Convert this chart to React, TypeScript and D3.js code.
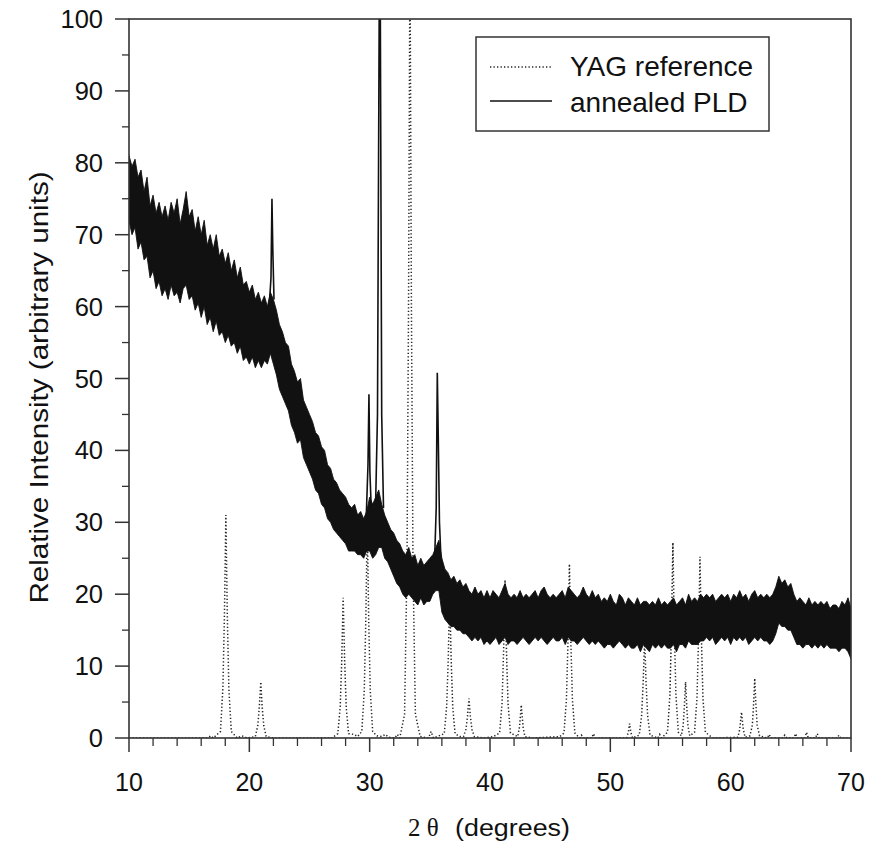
import React from "react";
import * as d3 from "d3";

// ---------- data ----------
const xTicks = [10, 20, 30, 40, 50, 60, 70];
const xMinorTicks = [12, 14, 16, 18, 22, 24, 26, 28, 32, 34, 36, 38, 42, 44, 46, 48, 52, 54, 56, 58, 62, 64, 66, 68];
const yTicks = [0, 10, 20, 30, 40, 50, 60, 70, 80, 90, 100];
const yMinorTicks = [5, 15, 25, 35, 45, 55, 65, 75, 85, 95];

// annealed PLD: upper / lower envelope of the noisy trace, sampled every 0.25 deg from 10 to 70
const pldAngles = d3.range(0, 241).map((i) => 10 + i * 0.25);
const pldHigh = [
  81, 79.5, 80.5, 78,
  79, 76, 78, 74,
  75.5, 73, 74.5, 72.5,
  74, 72, 74.5, 73,
  75, 71.5, 73.5, 76,
  72.5, 73.5, 70.5, 72.5,
  70, 72, 68.5, 70,
  68, 70, 67, 68,
  66, 67.5, 65, 66.5,
  64, 65.5, 63, 63.5,
  62, 63, 61, 62,
  60.5, 61.5, 60, 62,
  61, 59.5, 57.5, 56.5,
  55, 54.5, 52, 51,
  49.5, 50, 47, 46,
  45, 44, 42.5, 42,
  40.5, 40, 38, 37.5,
  36, 35.5, 34.5, 34,
  33.5, 32.5, 32, 32.5,
  31, 31.5, 30.5, 31.5,
  33.5, 32.5, 33.5, 34.5,
  32.5, 31, 30, 29,
  28.5, 27.5, 27, 26,
  25.5, 26.5, 25, 25.5,
  24, 25, 24, 24.5,
  25, 25.5, 26.5, 27.5,
  25, 23.5, 23, 22,
  22.5, 21.5, 22, 21,
  21.5, 20.5, 20, 21,
  20, 20.5, 19.5, 20.5,
  19.5, 20.5, 20, 19.5,
  20.5, 21.5, 20, 19.5,
  20, 19.5, 20.5, 19.5,
  20, 19.5, 20, 20.5,
  19.5, 20.5, 21, 20,
  19.5, 20, 19.5, 20,
  20.5, 19.5, 21, 20.5,
  20, 19.5, 20, 21,
  20, 19.5, 20.5, 19.5,
  20, 19, 19.5, 19,
  20, 19, 18.5, 20,
  19.5, 18.5, 19.5, 19,
  18.5, 19.5, 18.5, 19,
  19, 18.5, 19, 18.5,
  19.5, 18.5, 19, 18.5,
  19, 19.5, 18.5, 19,
  19.5, 18.5, 20, 19,
  19.5, 19, 20, 19.5,
  20, 19.5, 20, 19,
  19.5, 20, 19.5, 20,
  19, 20, 19.5, 20.5,
  19.5, 20, 19, 20,
  20.5, 19.5, 20, 19.5,
  20, 19.5, 20, 21,
  22.5, 21.5, 22, 21,
  21.5, 20, 19, 19.5,
  19, 18.5, 19.5, 18.5,
  19, 18.5, 19, 18.5,
  19, 18, 18.5, 18.5,
  18, 19, 18.5, 19.5,
  18,
];
const pldLow = [
  72, 70, 71, 68,
  69, 66.5, 67, 64,
  65, 62.5, 63.5, 61.5,
  62.5, 61, 63, 61.5,
  62, 60.5, 62.5, 63,
  61, 61.5, 59.5, 60.5,
  58.5, 60, 57.5, 58.5,
  56.5, 58, 56, 56.5,
  55, 56, 54.5, 55,
  53.5, 54.5, 52.5, 53,
  52, 53, 51.5, 52.5,
  51.5, 52.5, 52, 53.5,
  52, 50.5, 48.5, 47.5,
  46.5, 45.5, 43.5, 42.5,
  41, 41.5, 39, 38,
  37, 36, 34.5, 34,
  32.5, 32, 30.5, 30,
  29, 28.5, 28, 27.5,
  27, 26, 26, 26,
  25.5, 25.5, 25, 26,
  26, 25, 25.5, 26.5,
  26.5, 25, 24.5, 23.5,
  22.5, 21.5, 21, 20,
  19.5, 20, 19.5, 19,
  18.5, 19.5, 18.5, 19,
  19, 20, 20.5, 20.5,
  17.5, 16.5, 16, 15.5,
  15.5, 15, 15, 14.5,
  14.5, 14, 13.5, 14,
  13.5, 14, 13, 13.5,
  13, 13.5, 14, 13,
  13.5, 14, 13, 13.5,
  13.5, 13, 13.5, 14,
  13.5, 13, 13.5, 14,
  13.5, 14, 13.5, 13,
  13.5, 14, 13.5, 13.5,
  14, 13, 14, 13.5,
  13.5, 13, 13.5, 14,
  13.5, 13, 13.5, 13,
  13.5, 13, 12.5, 13,
  13, 12.5, 13, 13.5,
  13, 12.5, 13, 12.5,
  12.5, 13, 12, 13,
  12.5, 12, 13, 12.5,
  13, 12.5, 13, 12.5,
  12.5, 13, 12, 13,
  13, 12.5, 13.5, 13,
  13, 13, 13.5, 13.5,
  14, 13.5, 14, 13,
  13.5, 14, 13.5, 14,
  13, 14, 13.5, 14,
  13.5, 14, 13, 13.5,
  14, 13.5, 14, 13.5,
  13.5, 13, 13.5, 14.5,
  16, 15.5, 15.5, 15,
  15, 14, 13, 13,
  12.5, 13, 13, 12.5,
  13, 12.5, 13, 12.5,
  13, 12.5, 12.5, 12.5,
  12, 12.5, 12.5, 12,
  11,
];

// sharp diffraction peaks of the annealed PLD film [2theta, intensity]
const pldPeak21 = [[21.65, 60], [21.8, 64], [21.88, 75], [21.95, 68], [22.05, 61]];
const pldPeak29 = [[29.7, 30], [29.86, 38], [29.94, 47.8], [30.02, 37], [30.15, 31]];
const pldPeak30 = [[30.5, 33], [30.65, 45], [30.8, 104], [30.88, 104], [31.0, 45], [31.15, 32]];
const pldPeak35 = [[35.4, 25], [35.53, 32], [35.62, 50.8], [35.7, 42], [35.8, 30], [35.95, 24]];
const pldPeaks = [pldPeak21, pldPeak29, pldPeak30, pldPeak35];

// YAG reference pattern [2theta, intensity]
const yagPoints = [
  [10, 0], [16.5, 0], [16.8, 0.3], [17.0, 0],
  [17.6, 0.9], [17.8, 6.8], [17.93, 17], [18.05, 31], [18.17, 17], [18.3, 6.8], [18.5, 0.9],
  [19.0, 0], [19.4, 0.3], [19.8, 0],
  [20.5, 0.2], [20.7, 1.7], [20.83, 4.3], [20.95, 7.8], [21.07, 4.3], [21.2, 1.7], [21.4, 0.2],
  [22.0, 0], [26.9, 0], [27.1, 0.3],
  [27.35, 0.6], [27.55, 4.3], [27.68, 10.7], [27.8, 19.5], [27.92, 10.7], [28.05, 4.3], [28.25, 0.6],
  [28.7, 0.5], [29.0, 0.2],
  [29.35, 0.9], [29.55, 6.6], [29.68, 16.5], [29.8, 30], [29.92, 16.5], [30.05, 6.6], [30.25, 0.9],
  [30.6, 0.3], [31.0, 0.2], [31.3, 0.5], [31.6, 0.1], [32.1, 0], [32.3, 0.5], [32.5, 0],
  [32.9, 3.3], [33.1, 24], [33.23, 60], [33.35, 110], [33.47, 60], [33.6, 24], [33.8, 3.3],
  [34.2, 0.2], [34.9, 0], [35.1, 0.9], [35.3, 0],
  [36.2, 0.6], [36.4, 4.4], [36.53, 11], [36.65, 20], [36.77, 11], [36.9, 4.4], [37.1, 0.6],
  [37.5, 0.2],
  [37.8, 0.2], [38.0, 1.2], [38.13, 3], [38.25, 5.5], [38.37, 3], [38.5, 1.2], [38.7, 0.2],
  [39.5, 0], [40.3, 0.2],
  [40.8, 0.7], [41.0, 4.8], [41.13, 12.1], [41.25, 22], [41.37, 12.1], [41.5, 4.8], [41.7, 0.7],
  [42.3, 0.2], [42.45, 1.5], [42.6, 4.6], [42.75, 1.5], [42.9, 0.2],
  [43.5, 0], [45.8, 0.2],
  [46.15, 0.7], [46.35, 5.3], [46.48, 13.3], [46.6, 24.2], [46.72, 13.3], [46.85, 5.3], [47.05, 0.7],
  [47.45, 0], [47.6, 0.4], [47.75, 0], [48.45, 0], [48.6, 0.6], [48.75, 0],
  [51.35, 0], [51.5, 0.8], [51.6, 2], [51.7, 0.8], [51.85, 0],
  [52.4, 0.4], [52.6, 3.1], [52.73, 7.7], [52.85, 14], [52.97, 7.7], [53.1, 3.1], [53.3, 0.4],
  [53.95, 0], [54.1, 0.5], [54.25, 0],
  [54.75, 0.8], [54.95, 6], [55.08, 15], [55.2, 27.2], [55.32, 15], [55.45, 6], [55.65, 0.8],
  [55.9, 0.3], [56.05, 1.7], [56.15, 4.3], [56.25, 7.8], [56.35, 4.3], [56.45, 1.7], [56.6, 0.3],
  [57.0, 0.8], [57.2, 5.5], [57.33, 13.9], [57.45, 25.2], [57.57, 13.9], [57.7, 5.5], [57.9, 0.8],
  [58.5, 0], [60.6, 0.1], [60.75, 1.2], [60.9, 3.6], [61.05, 1.2], [61.2, 0.1],
  [61.6, 0.3], [61.8, 1.8], [61.9, 4.6], [62.0, 8.3], [62.1, 4.6], [62.2, 1.8], [62.4, 0.3],
  [63.05, 0], [63.2, 0.5], [63.35, 0], [64.35, 0], [64.5, 0.4], [64.65, 0],
  [65.25, 0], [65.4, 0.6], [65.55, 0], [66.15, 0], [66.3, 0.8], [66.45, 0],
  [67.05, 0], [67.2, 0.6], [67.35, 0], [68.85, 0], [69.0, 0.4], [69.15, 0], [70, 0],
];

const legendLabels = ["YAG reference", "annealed PLD"];
const xTitleSymbol = "2 θ";
const xTitleUnit = "(degrees)";
const yTitle = "Relative Intensity (arbitrary units)";

// ---------- component ----------
export default function App() {
  const W = 870;
  const H = 850;
  const left = 129;
  const right = 851;
  const top = 19;
  const bottom = 738;

  const x = d3.scaleLinear().domain([10, 70]).range([left, right]);
  const y = d3.scaleLinear().domain([0, 100]).range([bottom, top]);

  const band = pldAngles.map((a, i) => ({ a, hi: pldHigh[i], lo: pldLow[i] }));
  const areaGen = d3
    .area<{ a: number; hi: number; lo: number }>()
    .x((d) => x(d.a))
    .y0((d) => y(d.lo))
    .y1((d) => y(d.hi));
  const lineGen = d3
    .line<number[]>()
    .x((d) => x(d[0]))
    .y((d) => y(d[1]));

  const sans = "'Liberation Sans', Arial, Helvetica, sans-serif";
  const serif = "'Liberation Serif', 'Times New Roman', serif";
  const ink = "#111";
  const axisCol = "#333";

  return (
    <svg
      width={W}
      height={H}
      viewBox={`0 0 ${W} ${H}`}
      style={{ position: "absolute", left: 0, top: 0, background: "#fff" }}
    >
      <defs>
        <clipPath id="plotClip">
          <rect x={left} y={top} width={right - left} height={bottom - top} />
        </clipPath>
      </defs>
      <rect x={0} y={0} width={W} height={H} fill="#fff" />

      <g clipPath="url(#plotClip)">
        {/* YAG reference, dotted */}
        <path
          d={lineGen(yagPoints) || ""}
          fill="none"
          stroke="#222"
          strokeWidth={1.5}
          strokeDasharray="1.3 2.2"
        />
        {/* annealed PLD noisy band */}
        <path d={areaGen(band) || ""} fill={ink} stroke={ink} strokeWidth={0.9} strokeLinejoin="miter" />
        {pldPeaks.map((pk, i) => (
          <path key={i} d={lineGen(pk) || ""} fill="none" stroke={ink} strokeWidth={1.6} />
        ))}
      </g>

      {/* frame */}
      <rect x={left} y={top} width={right - left} height={bottom - top} fill="none" stroke={axisCol} strokeWidth={1.6} />

      {/* x axis ticks */}
      {xTicks.map((t) => (
        <g key={"xt" + t}>
          <line x1={x(t)} x2={x(t)} y1={bottom} y2={bottom + 14} stroke={axisCol} strokeWidth={1.5} />
          <text x={x(t)} y={791} textAnchor="middle" fontFamily={sans} fontSize={25} fill={ink}>
            {t}
          </text>
        </g>
      ))}
      {xMinorTicks.map((t) => (
        <line key={"xm" + t} x1={x(t)} x2={x(t)} y1={bottom} y2={bottom + 8} stroke={axisCol} strokeWidth={1.3} />
      ))}

      {/* y axis ticks */}
      {yTicks.map((t) => (
        <g key={"yt" + t}>
          <line x1={left - 14} x2={left} y1={y(t)} y2={y(t)} stroke={axisCol} strokeWidth={1.5} />
          <text x={103} y={y(t) + 9} textAnchor="end" fontFamily={sans} fontSize={25.5} fill={ink}>
            {t}
          </text>
        </g>
      ))}
      {yMinorTicks.map((t) => (
        <line key={"ym" + t} x1={left - 7} x2={left} y1={y(t)} y2={y(t)} stroke={axisCol} strokeWidth={1.3} />
      ))}

      {/* axis titles */}
      <text x={408} y={836} fontFamily={serif} fontSize={25} fill={ink}>
        {xTitleSymbol}
      </text>
      <text x={455} y={836} fontFamily={sans} fontSize={23} fill={ink} textLength={115} lengthAdjust="spacingAndGlyphs">
        {xTitleUnit}
      </text>
      <text
        transform={`translate(48, ${387.5}) rotate(-90)`}
        textAnchor="middle"
        fontFamily={sans}
        fontSize={25}
        fill={ink}
        textLength={432}
        lengthAdjust="spacingAndGlyphs"
      >
        {yTitle}
      </text>

      {/* legend */}
      <g>
        <rect x={476} y={37} width={293} height={94} fill="#fff" stroke={axisCol} strokeWidth={1.5} />
        <line x1={490} x2={552} y1={67} y2={67} stroke="#222" strokeWidth={1.5} strokeDasharray="1.3 2.2" />
        <line x1={490} x2={552} y1={101} y2={101} stroke={ink} strokeWidth={1.5} />
        <text x={570} y={76} fontFamily={sans} fontSize={28} fill={ink}>
          {legendLabels[0]}
        </text>
        <text x={570} y={112} fontFamily={sans} fontSize={28} fill={ink}>
          {legendLabels[1]}
        </text>
      </g>
    </svg>
  );
}
